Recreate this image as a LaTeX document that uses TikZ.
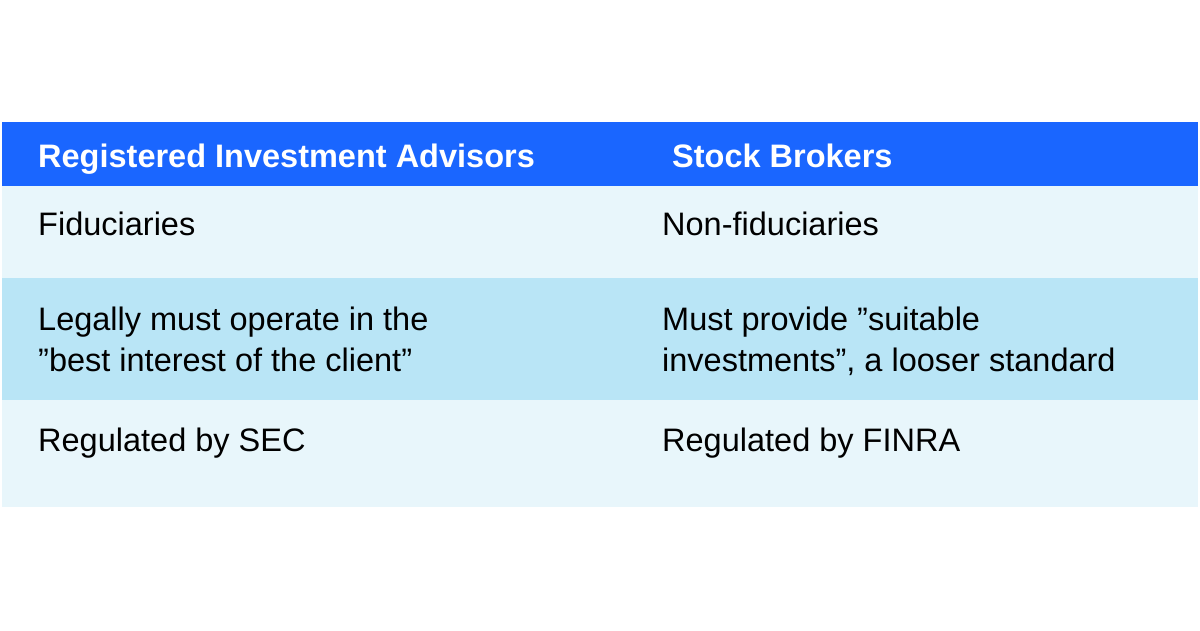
\documentclass[tikz,border=0pt]{standalone}
\usepackage{fontspec}
\setmainfont{Liberation Sans}
\definecolor{hdr}{HTML}{1A66FF}
\definecolor{rowa}{HTML}{E8F6FB}
\definecolor{rowb}{HTML}{B9E5F6}
\newcommand{\dq}{\symbol{34}}
\begin{document}
\begin{tikzpicture}[x=1pt,y=-1pt,
  cell/.style={anchor=base west,inner sep=0pt,font=\fontsize{32.5}{42}\selectfont,text=black,align=left},
  head/.style={cell,text=white,font=\fontsize{32.5}{42}\selectfont\bfseries}]
\useasboundingbox (0,0) rectangle (1200,630);
\fill[white] (0,0) rectangle (1200,630);
\fill[hdr] (2,122) rectangle (1198,186);
\fill[rowa] (2,186) rectangle (1198,278);
\fill[rowb] (2,278) rectangle (1198,400);
\fill[rowa] (2,400) rectangle (1198,507);
\node[head] (h1) at (38,167) {Registered Investment Advisors};
\node[head] (h2) at (672,167) {Stock Brokers};
\node[cell] (a1) at (38,235) {Fiduciaries};
\node[cell] (b1) at (662,235) {Non-fiduciaries};
\node[cell] (a2) at (38,330) {Legally must operate in the};
\node[cell] (a2b) at (38,371) {\dq best interest of the client\dq};
\node[cell] (b2) at (662,330) {Must provide \dq suitable};
\node[cell] (b2b) at (662,371) {investments\dq, a looser standard};
\node[cell] (a3) at (38,451) {Regulated by SEC};
\node[cell] (b3) at (662,451) {Regulated by FINRA};
\end{tikzpicture}
\end{document}
